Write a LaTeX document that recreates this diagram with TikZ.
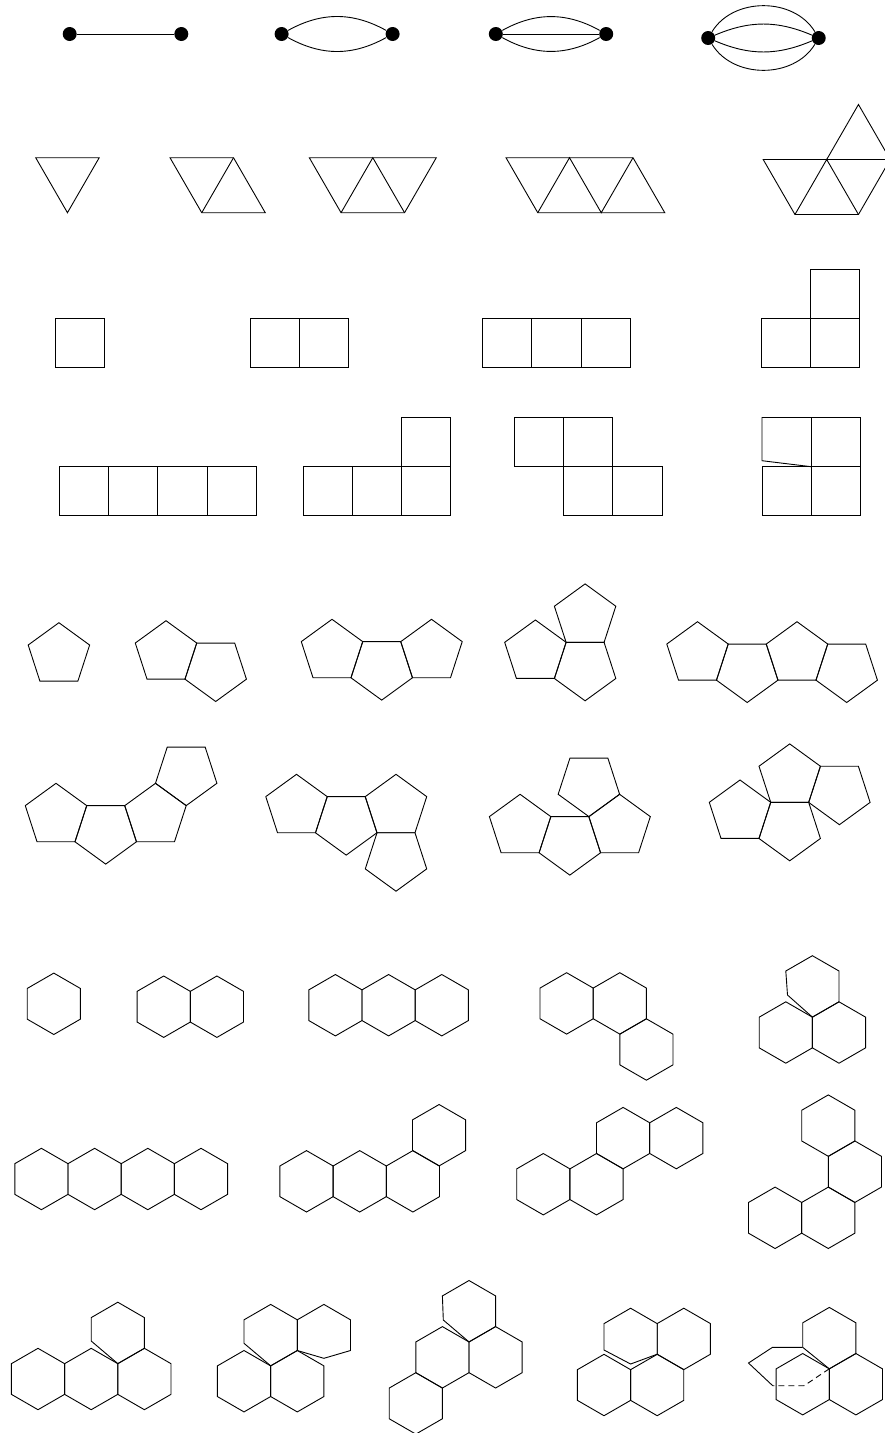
\documentclass[tikz,border=0pt]{standalone}
\usepackage{tikz}
\usetikzlibrary{arrows.meta,positioning}

% regular cells, centre given in pixels
\newcommand{\hexcell}[2]{\draw[shift={(#1,#2)}] (30:30.7) \foreach \k in {1,...,5}{ -- ({30+60*\k}:30.7)} -- cycle;}
\newcommand{\pentcell}[3]{\draw[shift={(#1,#2)}] (#3:32.3) \foreach \k in {1,...,4}{ -- ({#3+72*\k}:32.3)} -- cycle;}

\begin{document}
\begin{tikzpicture}[x=1pt, y=-1pt, line width=0.9pt,
  dot/.style={circle, fill, inner sep=0pt, minimum size=14pt},
  hidden/.style={dash pattern=on 6pt off 4pt}]
  \useasboundingbox (0,0) rectangle (885,1433);

  % dipoles
  \node[dot] (g1a) at (69.7,34) {};
  \node[dot] (g1b) at (181.3,34) {};
  \draw (g1a) -- (g1b);
  \node[dot] (g2a) at (281.6,34) {};
  \node[dot] (g2b) at (392.6,34) {};
  \draw (g2a) to[bend left=29] (g2b);
  \draw (g2a) to[bend right=29] (g2b);
  \node[dot] (g3a) at (495.8,34) {};
  \node[dot] (g3b) at (606.2,34) {};
  \draw (g3a) to[bend left=29] (g3b);
  \draw (g3a) -- (g3b);
  \draw (g3a) to[bend right=29] (g3b);
  \node[dot] (g4a) at (708.2,38) {};
  \node[dot] (g4b) at (818.7,38) {};
  \draw (g4a) .. controls +(25,-41) and +(-25,-41) .. (g4b);
  \draw (g4a) to[bend left=23] (g4b);
  \draw (g4a) to[bend right=23] (g4b);
  \draw (g4a) .. controls +(25,41) and +(-25,41) .. (g4b);

  % triangles
  \draw (35.7,157.7) -- (99.2,157.7) -- (67.45,212.7) -- cycle;
  \draw (170,157.7) -- (233.5,157.7) -- (265.25,212.7) -- (201.75,212.7) -- cycle;
  \draw (201.75,212.7) -- (233.5,157.7);
  \draw (309.3,157.7) -- (436.3,157.7) -- (404.55,212.7) -- (341.05,212.7) -- cycle;
  \draw (341.05,212.7) -- (372.8,157.7) -- (404.55,212.7);
  \draw (506,157.7) -- (633,157.7) -- (664.75,212.7) -- (537.75,212.7) -- cycle;
  \draw (537.75,212.7) -- (569.5,157.7) -- (601.25,212.7) -- (633,157.7);
  \draw (763.2,159.5) -- (890.2,159.5) -- (858.45,214.5) -- (794.95,214.5) -- cycle;
  \draw (794.95,214.5) -- (826.7,159.5) -- (858.45,214.5);
  \draw (826.7,159.5) -- (858.45,104.5) -- (890.2,159.5);

  % squares
  \draw (55,318.3) rectangle ++(49.2,49.2);
  \foreach \i in {0,1} {\draw (250.4+49.2*\i,318.3) rectangle ++(49.2,49.2);}
  \foreach \i in {0,1,2} {\draw (482.7+49.2*\i,318.3) rectangle ++(49.2,49.2);}
  \foreach \i in {0,1} {\draw (761+49.2*\i,318.3) rectangle ++(49.2,49.2);}
  \draw (810.2,269.1) rectangle ++(49.2,49.2);
  \foreach \i in {0,...,3} {\draw (59.5+49.2*\i,466.7) rectangle ++(49.2,49.2);}
  \foreach \i in {0,1,2} {\draw (303+49.2*\i,466.7) rectangle ++(49.2,49.2);}
  \draw (401.4,417.5) rectangle ++(49.2,49.2);
  \foreach \i in {0,1} {\draw (514.4+49.2*\i,417.5) rectangle ++(49.2,49.2);}
  \foreach \i in {0,1} {\draw (563.6+49.2*\i,466.7) rectangle ++(49.2,49.2);}
  \foreach \i in {0,1} {\draw (762+49.2*\i,466.7) rectangle ++(49.2,49.2);}
  \draw (811.2,417.5) rectangle ++(49.2,49.2);
  \draw (811.2,466.7) -- (762,460.7) -- (762,417.5) -- (811.2,417.5);

  % pentagons
  \pentcell{58.9}{655}{-90}
  \pentcell{166}{653}{-90}
  \pentcell{215.7}{669.2}{90}
  \pentcell{332}{651.6}{-90}
  \pentcell{381.7}{667.8}{90}
  \pentcell{431.5}{651.6}{-90}
  \pentcell{535.4}{652.3}{-90}
  \pentcell{585.1}{668.5}{90}
  \pentcell{585.1}{616.2}{-90}
  \pentcell{697.5}{654}{-90}
  \pentcell{747.2}{670.2}{90}
  \pentcell{797}{654}{-90}
  \pentcell{846.7}{670.2}{90}

  \pentcell{56}{815.6}{-90}
  \pentcell{105.7}{831.8}{90}
  \pentcell{155.5}{815.6}{-90}
  \pentcell{186.2}{773.3}{90}
  \pentcell{296.5}{806.6}{-90}
  \pentcell{346.2}{822.8}{90}
  \pentcell{396}{806.6}{-90}
  \pentcell{396}{858.9}{90}
  \pentcell{520.1}{826.6}{-90}
  \pentcell{569.8}{842.8}{90}
  \pentcell{619.6}{826.6}{-90}
  \pentcell{588.9}{784.3}{90}
  \pentcell{740}{812.3}{-90}
  \pentcell{789.7}{828.5}{90}
  \pentcell{789.7}{776.2}{-90}
  \pentcell{839.4}{792.4}{90}

  % hexagons
  \hexcell{53.8}{1003.8}
  \hexcell{163.7}{1006.7}
  \hexcell{216.9}{1006.7}
  \hexcell{335.4}{1005.2}
  \hexcell{388.6}{1005.2}
  \hexcell{441.8}{1005.2}
  \hexcell{566.6}{1003.4}
  \hexcell{619.8}{1003.4}
  \hexcell{646.4}{1049.5}
  \hexcell{785.8}{1032.5}
  \hexcell{839}{1032.5}
  \draw (812.4,955.7) -- (839,971) -- (839,1001.8) -- (812.4,1017.1) -- (787.5,995) -- (785.8,971) -- cycle;

  \foreach \i in {0,...,3} {\hexcell{41.4+53.2*\i}{1179}}
  \foreach \i in {0,1,2} {\hexcell{306.5+53.2*\i}{1181.3}}
  \hexcell{439.1}{1135.2}
  \hexcell{543.3}{1184.2}
  \hexcell{596.5}{1184.2}
  \hexcell{623.1}{1138.1}
  \hexcell{676.3}{1138.1}
  \hexcell{775.1}{1217.8}
  \hexcell{828.3}{1217.8}
  \hexcell{854.9}{1171.7}
  \hexcell{828.3}{1125.6}

  \foreach \i in {0,1,2} {\hexcell{38+53.2*\i}{1379}}
  \draw (117.8,1302.2) -- (144.4,1317.6) -- (144.4,1348.3) -- (117.8,1363.6) -- (91.2,1341) -- (91.2,1317.6) -- cycle;
  \hexcell{244}{1381.2}
  \hexcell{297.3}{1381.2}
  \draw (270.7,1304.4) -- (297.3,1319.8) -- (297.3,1350.5) -- (270.7,1365.8) -- (244,1343.3) -- (244,1319.8) -- cycle;
  \draw (323.9,1304.4) -- (350.5,1319.8) -- (350.5,1350.5) -- (323.9,1358.3) -- (297.3,1350.5) -- (297.3,1319.8) -- cycle;
  \draw (469,1280.5) -- (495.6,1295.9) -- (495.6,1326.6) -- (469,1341.9) -- (443.3,1320) -- (442.4,1295.9) -- cycle;
  \hexcell{442.4}{1357.3}
  \hexcell{495.6}{1357.3}
  \hexcell{415.8}{1403.4}
  \hexcell{604}{1385}
  \hexcell{657.2}{1385}
  \hexcell{683.8}{1338.9}
  \draw (630.6,1308.2) -- (657.2,1323.6) -- (657.2,1354.2) -- (630.6,1364) -- (604,1350) -- (604,1323.6) -- cycle;
  \hexcell{802.7}{1384.2}
  \hexcell{855.9}{1384.2}
  \draw (829.3,1307.4) -- (855.9,1322.8) -- (855.9,1353.5) -- (829.3,1368.8) -- (802.7,1347.3) -- (802.7,1322.8) -- cycle;
  \draw (772.7,1385.7) -- (748.5,1363) -- (772.5,1347.3) -- (802.7,1347.3);
  \draw[hidden] (829.3,1368.8) -- (804,1385.7) -- (772.7,1385.7);
\end{tikzpicture}
\end{document}
